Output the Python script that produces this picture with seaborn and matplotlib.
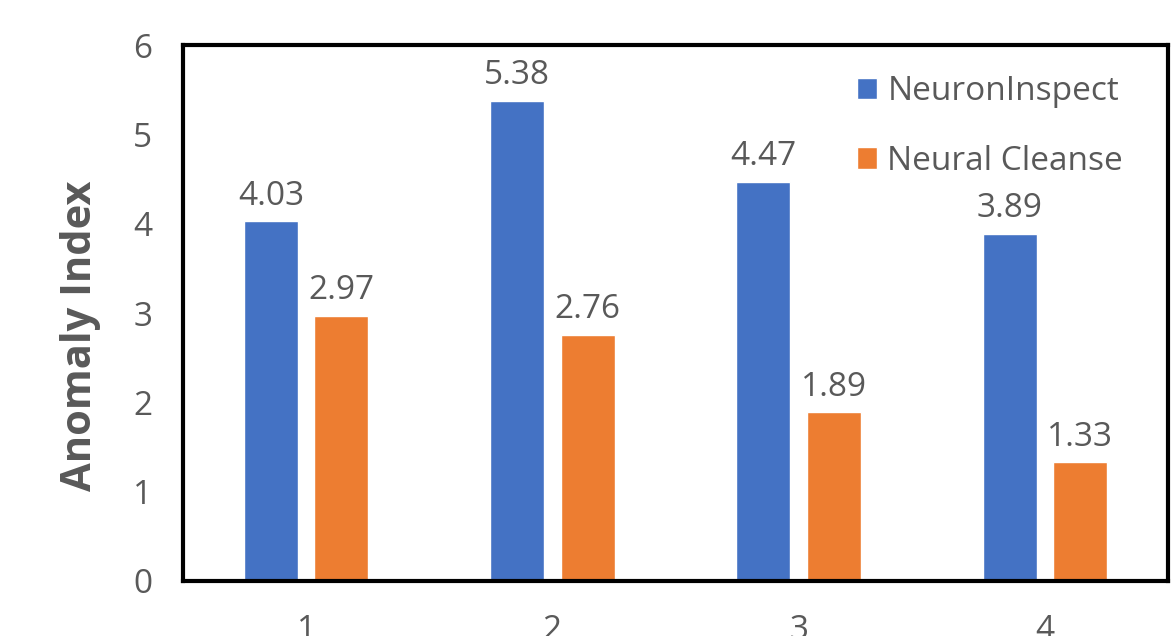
import pandas as pd
import matplotlib.pyplot as plt
import seaborn as sns

sns.set_theme(style="white")
plt.rcParams['font.family'] = ['Open Sans', 'DejaVu Sans']

groups = ['1', '2', '3', '4']
neuron_inspect = [4.03, 5.38, 4.47, 3.89]
neural_cleanse = [2.97, 2.76, 1.89, 1.33]
methods = ['NeuronInspect', 'Neural Cleanse']
colors = ['#4472C4', '#ED7D31']
grey = '#595959'

df = pd.DataFrame({
    'group': groups * 2,
    'value': neuron_inspect + neural_cleanse,
    'method': [methods[0]] * 4 + [methods[1]] * 4,
})

fig, ax = plt.subplots(figsize=(11.75, 6.36), dpi=100)
fig.subplots_adjust(left=0.1557, right=0.994, top=0.929, bottom=0.0865)

sns.barplot(data=df, x='group', y='value', hue='method', palette=colors,
            width=0.572, gap=0.234, ax=ax, saturation=1)

for c in ax.containers:
    ax.bar_label(c, fmt='%.2f', padding=6, fontsize=24, color=grey)

ax.set_xlim(-0.5, 3.5)
ax.set_ylim(0, 6)
ax.set_yticks(range(7))
ax.set_xlabel('')
ax.set_ylabel('Anomaly Index', fontsize=30, fontweight='bold', color=grey)
ax.yaxis.set_label_coords(-0.083, 0.457)
ax.tick_params(axis='both', labelsize=24, labelcolor=grey, length=0)
ax.tick_params(axis='y', pad=22)
ax.tick_params(axis='x', pad=24)

for s in ax.spines.values():
    s.set_visible(True)
    s.set_color('black')
    s.set_linewidth(3)

leg = ax.legend(loc='upper right', bbox_to_anchor=(0.985, 1.0), frameon=False,
                fontsize=24, handlelength=0.6, handleheight=0.6, handletextpad=0.3,
                labelspacing=1.1)
for t in leg.get_texts():
    t.set_color(grey)

fig.savefig('out.png', dpi=100)
